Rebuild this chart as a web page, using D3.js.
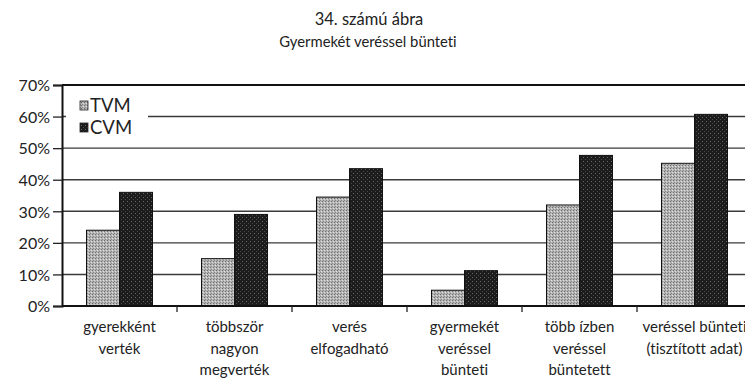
<!DOCTYPE html>
<html>
<head>
<meta charset="utf-8">
<script src="https://cdn.jsdelivr.net/npm/d3@7"></script>
<style>
  html, body { margin: 0; padding: 0; background: #fff; }
  svg { display: block; font-family: Lato, "Noto Sans", sans-serif; font-variant-ligatures: none; }
</style>
</head>
<body>
<svg id="chart" width="745" height="378"></svg>
<script>
// Share of respondents, by statement and survey
const categories = [
  ["gyerekként", "verték"],
  ["többször", "nagyon", "megverték"],
  ["verés", "elfogadható"],
  ["gyermekét", "veréssel", "bünteti"],
  ["több ízben", "veréssel", "büntetett"],
  ["veréssel bünteti", "(tisztított adat)"]
];
const seriesNames = ["TVM", "CVM"];
const tvmValues = [24, 15, 34.5, 5, 32, 45.2];
const cvmValues = [36, 29, 43.5, 11.2, 47.7, 60.7];
const yTicks = [0, 10, 20, 30, 40, 50, 60, 70];
const titleLines = ["34. számú ábra", "Gyermekét veréssel bünteti"];

const svg = d3.select("#chart");
const W = 745, H = 378;
const plot = { left: 62, right: 752, top: 85, bottom: 306 };

// Fill patterns for the two series
const defs = svg.append("defs");
const pT = defs.append("pattern").attr("id", "fillTVM")
  .attr("patternUnits", "userSpaceOnUse").attr("width", 3).attr("height", 3);
pT.append("rect").attr("width", 3).attr("height", 3).attr("fill", "#b4b4b4");
pT.append("rect").attr("x", 0).attr("y", 0).attr("width", 1).attr("height", 1).attr("fill", "#6e6e6e");
pT.append("rect").attr("x", 2).attr("y", 1).attr("width", 1).attr("height", 1).attr("fill", "#e0e0e0");
pT.append("rect").attr("x", 1).attr("y", 2).attr("width", 1).attr("height", 1).attr("fill", "#888");

const pC = defs.append("pattern").attr("id", "fillCVM")
  .attr("patternUnits", "userSpaceOnUse").attr("width", 4).attr("height", 4);
pC.append("rect").attr("width", 4).attr("height", 4).attr("fill", "#1c1c1c");
pC.append("rect").attr("x", 1).attr("y", 1).attr("width", 1).attr("height", 1).attr("fill", "#6a6a6a");
pC.append("rect").attr("x", 3).attr("y", 3).attr("width", 1).attr("height", 1).attr("fill", "#4a4a4a");

const fills = { TVM: "url(#fillTVM)", CVM: "url(#fillCVM)" };

// Titles
svg.append("text").attr("x", 369).attr("y", 25).attr("text-anchor", "middle")
  .attr("font-size", 16.5).attr("fill", "#222").text(titleLines[0]);
svg.append("text").attr("x", 368).attr("y", 47).attr("text-anchor", "middle")
  .attr("font-size", 14.8).attr("fill", "#222").text(titleLines[1]);

// Scales
const y = d3.scaleLinear().domain([0, 70]).range([plot.bottom, plot.top]);
const x0 = d3.scaleBand().domain(d3.range(categories.length))
  .range([plot.left, plot.right]).paddingInner(0).paddingOuter(0);
const groupW = 66;
const x1 = d3.scaleBand().domain(seriesNames)
  .range([(x0.bandwidth() - groupW) / 2, (x0.bandwidth() + groupW) / 2]);

// Gridlines
svg.append("g").selectAll("line").data(yTicks.filter(d => d > 0 && d < 70)).join("line")
  .attr("x1", plot.left).attr("x2", W)
  .attr("y1", d => y(d)).attr("y2", d => y(d))
  .attr("stroke", "#3a3a3a").attr("stroke-width", 1.4);
// Top frame line
svg.append("line").attr("x1", plot.left).attr("x2", W)
  .attr("y1", y(70)).attr("y2", y(70)).attr("stroke", "#111").attr("stroke-width", 2.2);

// Y axis
const yAxis = d3.axisLeft(y).tickValues(yTicks).tickFormat(d => d + "%").tickSize(9).tickPadding(3);
const gy = svg.append("g").attr("transform", `translate(${plot.left},0)`).call(yAxis);
gy.select(".domain").attr("stroke", "#111").attr("stroke-width", 2);
gy.selectAll(".tick line").attr("stroke", "#222").attr("stroke-width", 1.3);
gy.selectAll(".tick text").attr("font-size", 16).attr("fill", "#222")
  .attr("font-family", "Lato, 'Noto Sans', sans-serif").attr("dy", "0.36em");

// Legend (white box over the gridlines)
const lg = svg.append("g");
lg.append("rect").attr("x", 66).attr("y", 92).attr("width", 82).attr("height", 48).attr("fill", "#fff");
seriesNames.forEach((s, i) => {
  const yy = 101 + i * 22;
  lg.append("rect").attr("x", 80).attr("y", yy).attr("width", 8).attr("height", 9)
    .attr("fill", fills[s]).attr("stroke", "#222").attr("stroke-width", 0.8);
  lg.append("text").attr("x", 90).attr("y", yy + 10.5).attr("font-size", 18.5)
    .attr("fill", "#222").text(s);
});

// Bars
const rows = categories.map((c, i) => ({ i, TVM: tvmValues[i], CVM: cvmValues[i] }));
const groups = svg.append("g").selectAll("g").data(rows).join("g")
  .attr("transform", d => `translate(${x0(d.i)},0)`);
groups.selectAll("rect").data(d => seriesNames.map(s => ({ s, v: d[s] }))).join("rect")
  .attr("x", d => x1(d.s)).attr("width", x1.bandwidth())
  .attr("y", d => y(d.v)).attr("height", d => y(0) - y(d.v))
  .attr("fill", d => fills[d.s]).attr("stroke", "#111").attr("stroke-width", 1);

// X axis with ticks at category boundaries
const gx = svg.append("g").attr("transform", `translate(0,${plot.bottom})`);
gx.append("line").attr("x1", plot.left).attr("x2", W).attr("y1", 0).attr("y2", 0)
  .attr("stroke", "#111").attr("stroke-width", 2.2);
gx.selectAll("line.tk").data(d3.range(1, categories.length)).join("line").attr("class", "tk")
  .attr("x1", d => x0(d)).attr("x2", d => x0(d)).attr("y1", 0).attr("y2", 6)
  .attr("stroke", "#222").attr("stroke-width", 1.3);

// Category labels
const lab = svg.append("g").selectAll("text").data(categories.map((c, i) => ({ c, i }))).join("text")
  .attr("x", d => x0(d.i) + x0.bandwidth() / 2).attr("y", 332)
  .attr("text-anchor", "middle").attr("font-size", 15).attr("fill", "#222");
lab.selectAll("tspan").data(d => d.c.map((t, k) => ({ t, k, cx: x0(d.i) + x0.bandwidth() / 2 }))).join("tspan")
  .attr("x", d => d.cx).attr("dy", d => d.k === 0 ? 0 : 21.5).text(d => d.t);
</script>
</body>
</html>
